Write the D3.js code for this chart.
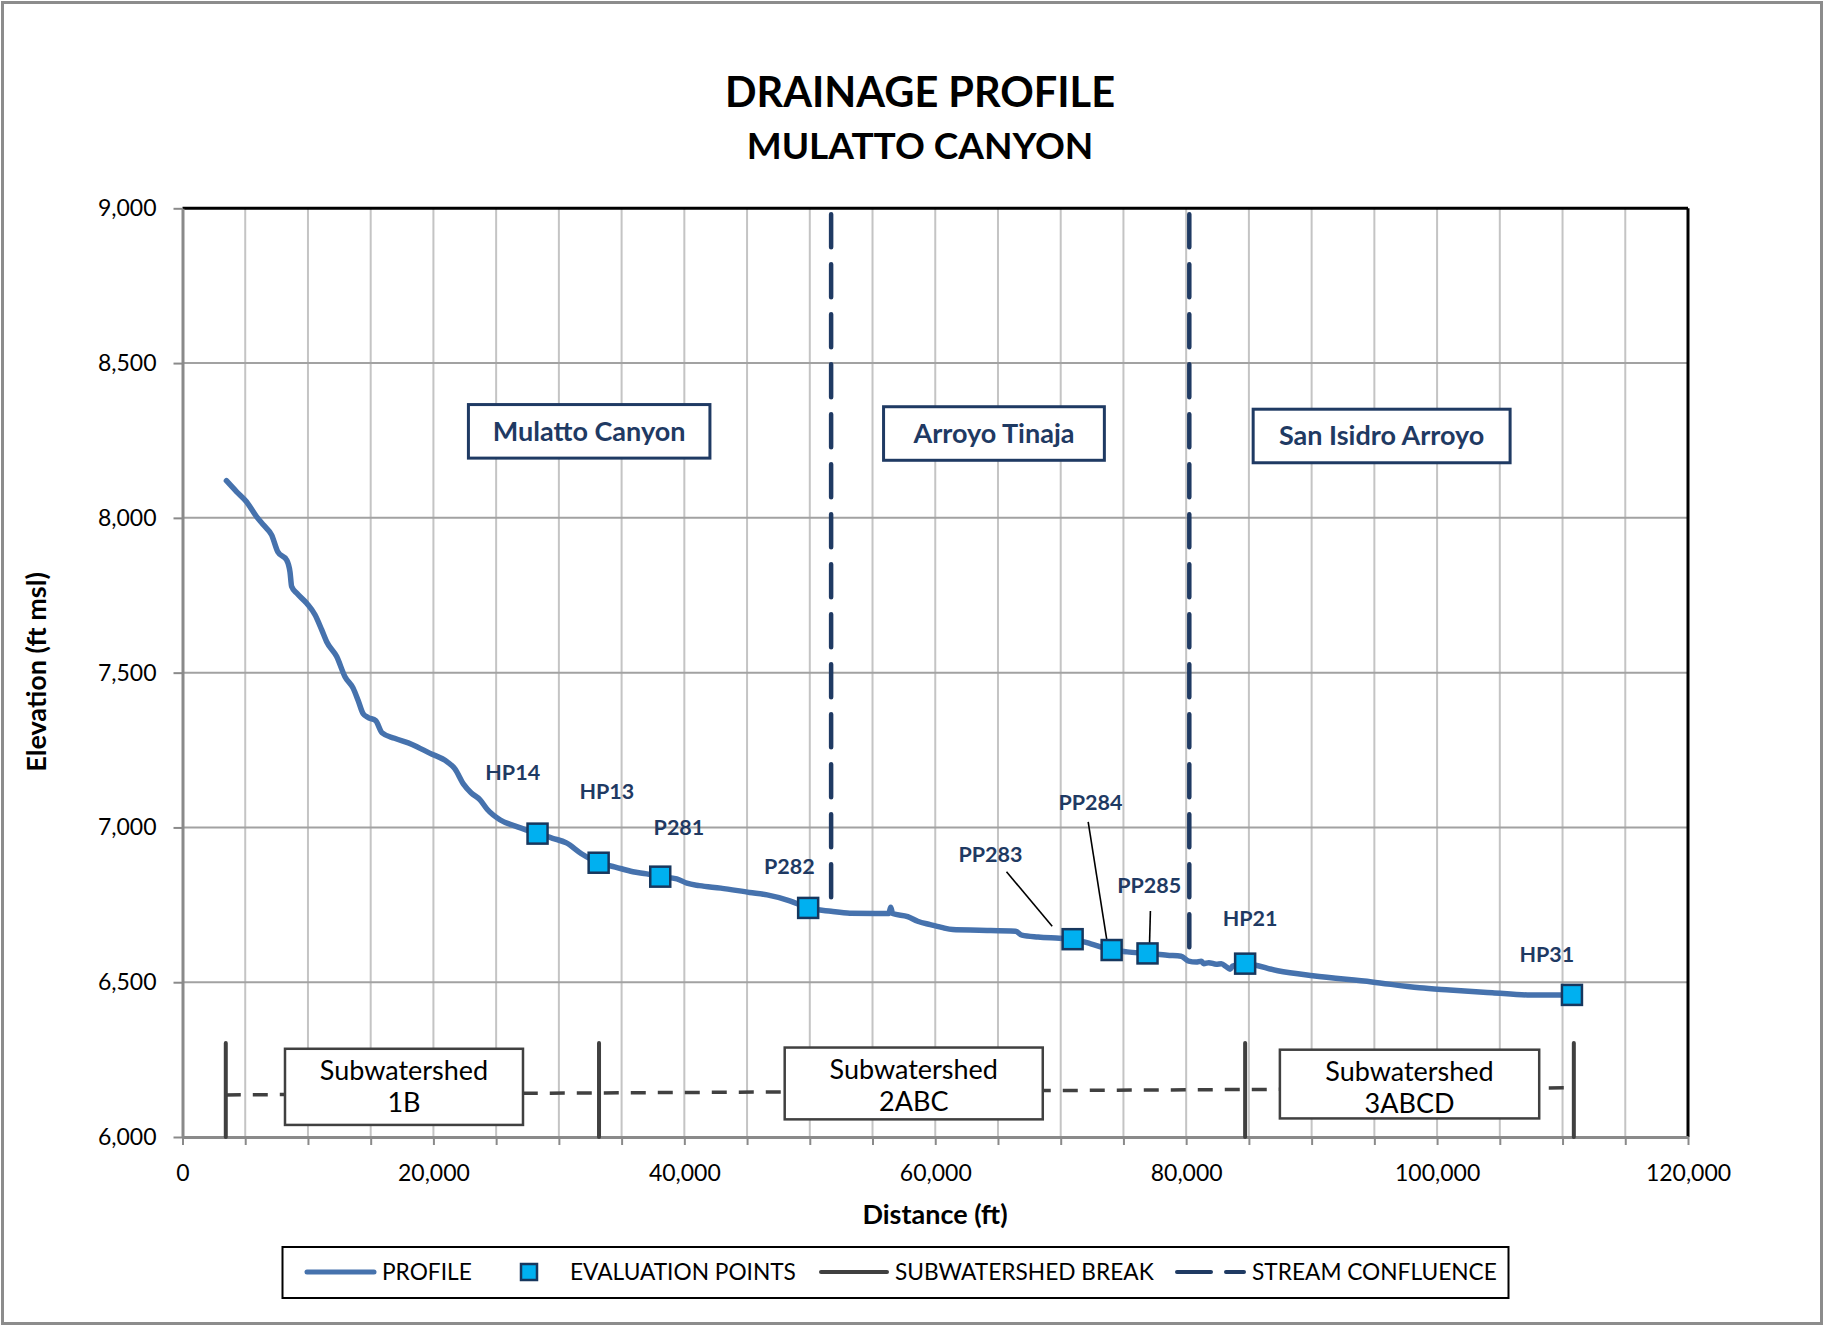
<!DOCTYPE html>
<html>
<head>
<meta charset="utf-8">
<script src="https://cdn.jsdelivr.net/npm/d3@7"></script>
<style>
  body { margin: 0; background: #fff; }
  text { font-family: Lato, "Noto Sans", sans-serif; }
</style>
</head>
<body>
<div id="chart"></div>
<script>
// profile (distance ft, elevation ft msl)
const profileDist = [3500, 4300, 5100, 5900, 6500, 7100, 7600, 8300, 8570, 8700, 9100, 9900, 10560, 11090, 11490, 12290,
  12950, 13600, 14000, 14400, 14800, 15400, 15900, 16900, 18300, 19700, 21100, 21700, 22400, 23000, 23700, 24300,
  25300, 26700, 28300, 29500, 30600, 31800, 33170, 34500, 35900, 37000, 38080, 39400, 40200, 41200, 42900, 45200,
  46600, 48400, 49870, 51700, 53200, 56000, 56300, 56450, 56600, 57800, 58600, 59600, 60500, 61400, 63500, 66400,
  66900, 68200, 69900, 70950, 72400, 74060, 75300, 76920, 78500, 79600, 80200, 80800, 81200, 81400, 81800, 82400,
  82800, 83200, 83500, 83700, 84700, 87300, 90100, 94800, 98600, 101000, 104400, 107200, 110750];
const profileElev = [8120, 8085, 8052, 8004, 7975, 7945, 7890, 7864, 7825, 7778, 7757, 7724, 7687, 7639, 7600, 7552,
  7487, 7450, 7410, 7367, 7355, 7345, 7306, 7288, 7268, 7240, 7212, 7190, 7140, 7112, 7090, 7058,
  7025, 7002, 6980, 6965, 6950, 6915, 6886, 6872, 6857, 6850, 6841, 6834, 6820, 6812, 6804, 6790,
  6782, 6763, 6740, 6729, 6723, 6722, 6722, 6742, 6722, 6712, 6697, 6686, 6677, 6670, 6668, 6665,
  6652, 6646, 6642, 6639, 6624, 6604, 6598, 6593, 6587, 6584, 6568, 6565, 6568, 6560, 6563, 6558,
  6560, 6550, 6542, 6552, 6560, 6537, 6521, 6501, 6482, 6475, 6466, 6459, 6459];

// evaluation points
const pointNames = ["HP14", "HP13", "P281", "P282", "PP283", "PP284", "PP285", "HP21", "HP31"];
const pointDist = [28300, 33170, 38080, 49870, 70950, 74060, 76920, 84700, 110750];
const pointElev = [6980, 6886, 6841, 6740, 6639, 6604, 6593, 6560, 6459];
// label anchors (data coords) and leader lines
const labelDist = [26320, 33820, 39570, 48370, 64400, 72370, 77050, 85100, 108750];
const labelElev = [7179, 7115, 6999, 6875, 6913, 7080, 6811, 6707, 6588];
const leaders = [
  [[65680, 6857], [69320, 6681]],
  [[72190, 7018], [73690, 6633]],
  [[77150, 6730], [77080, 6624]]
];

// stream confluences: distance, bottom elevation
const confluenceDist = [51700, 80250];
const confluenceEnd = [6745, 6594];

// subwatershed breaks
const breakDist = [3450, 33200, 84700, 110900];
const breakTop = 6304;
const divideLine = [[3450, 6136], [110900, 6159]];

// text boxes [x0, x1, yLow, yHigh]
const streamNames = ["Mulatto Canyon", "Arroyo Tinaja", "San Isidro Arroyo"];
const streamBoxes = [[22790, 42040, 8193, 8366], [55880, 73480, 8186, 8359], [85340, 105820, 8178, 8351]];
const shedNames = [["Subwatershed", "1B"], ["Subwatershed", "2ABC"], ["Subwatershed", "3ABCD"]];
const shedBoxes = [[8170, 27140, 6039, 6285], [48000, 68570, 6057, 6289], [87470, 108140, 6060, 6282]];

const xTicks = [0, 20000, 40000, 60000, 80000, 100000, 120000];
const yTicks = [6000, 6500, 7000, 7500, 8000, 8500, 9000];

const W = 1823, H = 1325;
const plot = { left: 182.5, right: 1688, top: 208.3, bottom: 1137 };
const navy = "#1f3a63", blue = "#4672ad", darkGray = "#404040";

const svg = d3.select("#chart").append("svg").attr("width", W).attr("height", H);
svg.append("rect").attr("x", 0).attr("y", 0).attr("width", W).attr("height", H).attr("fill", "#fff");
svg.append("rect").attr("x", 2.5).attr("y", 2.5).attr("width", W - 4).attr("height", H - 4)
  .attr("fill", "none").attr("stroke", "#8c8c8c").attr("stroke-width", 3);

const x = d3.scaleLinear().domain([0, 120000]).range([plot.left, plot.right]);
const y = d3.scaleLinear().domain([6000, 9000]).range([plot.bottom, plot.top]);

// titles
svg.append("text").attr("x", 920).attr("y", 107).attr("text-anchor", "middle")
  .attr("font-size", 41.5).attr("font-weight", 700).text("DRAINAGE PROFILE");
svg.append("text").attr("x", 920).attr("y", 159).attr("text-anchor", "middle")
  .attr("font-size", 37).attr("font-weight", 700).text("MULATTO CANYON");

// grid
const grid = svg.append("g");
grid.selectAll(".vg").data(d3.range(5000, 120000, 5000)).join("line")
  .attr("x1", d => x(d)).attr("x2", d => x(d)).attr("y1", plot.top).attr("y2", plot.bottom)
  .attr("stroke", "#c4c4c4").attr("stroke-width", 2);
grid.selectAll(".hg").data(yTicks.slice(1, -1)).join("line")
  .attr("x1", plot.left).attr("x2", plot.right).attr("y1", d => y(d)).attr("y2", d => y(d))
  .attr("stroke", "#a2a2a2").attr("stroke-width", 2);

// plot frame (top/right black)
svg.append("line").attr("x1", plot.left).attr("x2", plot.right).attr("y1", plot.top).attr("y2", plot.top)
  .attr("stroke", "#000").attr("stroke-width", 3);
svg.append("line").attr("x1", plot.right).attr("x2", plot.right).attr("y1", plot.top).attr("y2", plot.bottom)
  .attr("stroke", "#000").attr("stroke-width", 3);

// axes
const fmt = d3.format(",");
const xAxis = svg.append("g").attr("transform", `translate(0,${plot.bottom})`)
  .call(d3.axisBottom(x).tickValues(d3.range(0, 120001, 5000)).tickSize(8).tickSizeOuter(0)
    .tickFormat(d => xTicks.includes(d) ? fmt(d) : ""));
const yAxis = svg.append("g").attr("transform", `translate(${plot.left},0)`)
  .call(d3.axisLeft(y).tickValues(yTicks).tickSize(9).tickSizeOuter(0).tickFormat(fmt));
[xAxis, yAxis].forEach(a => {
  a.select(".domain").attr("stroke", "#8a8a8a").attr("stroke-width", 3);
  a.selectAll(".tick line").attr("stroke", "#8a8a8a").attr("stroke-width", 2);
  a.selectAll(".tick text").attr("font-family", "Lato, sans-serif").attr("font-size", 23).attr("fill", "#000");
});
xAxis.selectAll(".tick text").attr("dy", "1.45em");
yAxis.selectAll(".tick text").attr("x", -26);

svg.append("text").attr("x", 935).attr("y", 1224).attr("text-anchor", "middle")
  .attr("font-size", 27).attr("font-weight", 700).text("Distance (ft)");
svg.append("text").attr("transform", "translate(46,672) rotate(-90)").attr("text-anchor", "middle")
  .attr("font-size", 27).attr("font-weight", 700).text("Elevation (ft msl)");

// subwatershed divider and breaks
svg.append("line")
  .attr("x1", x(divideLine[0][0])).attr("y1", y(divideLine[0][1]))
  .attr("x2", x(divideLine[1][0])).attr("y2", y(divideLine[1][1]))
  .attr("stroke", darkGray).attr("stroke-width", 3.5).attr("stroke-dasharray", "15,12");
svg.selectAll(".brk").data(breakDist).join("line")
  .attr("x1", d => x(d)).attr("x2", d => x(d)).attr("y1", y(6000)).attr("y2", y(breakTop))
  .attr("stroke", darkGray).attr("stroke-width", 4).attr("stroke-linecap", "round");

const shedG = svg.selectAll(".shed").data(shedBoxes).join("g");
shedG.append("rect")
  .attr("x", d => x(d[0])).attr("y", d => y(d[3]))
  .attr("width", d => x(d[1]) - x(d[0])).attr("height", d => y(d[2]) - y(d[3]))
  .attr("fill", "#fff").attr("stroke", darkGray).attr("stroke-width", 2.5);
shedG.each(function (d, i) {
  const cx = (x(d[0]) + x(d[1])) / 2, top = y(d[3]);
  d3.select(this).append("text").attr("x", cx).attr("y", top + 31).attr("text-anchor", "middle")
    .attr("font-size", 27).text(shedNames[i][0]);
  d3.select(this).append("text").attr("x", cx).attr("y", top + 63).attr("text-anchor", "middle")
    .attr("font-size", 27).text(shedNames[i][1]);
});

// stream confluences
svg.selectAll(".conf").data(confluenceDist).join("line")
  .attr("x1", d => x(d)).attr("x2", d => x(d)).attr("y1", y(9000) + 6).attr("y2", (d, i) => y(confluenceEnd[i]))
  .attr("stroke", navy).attr("stroke-width", 4.5).attr("stroke-dasharray", "33,17").attr("stroke-linecap", "round");

// stream name boxes
const streamG = svg.selectAll(".stream").data(streamBoxes).join("g");
streamG.append("rect")
  .attr("x", d => x(d[0])).attr("y", d => y(d[3]))
  .attr("width", d => x(d[1]) - x(d[0])).attr("height", d => y(d[2]) - y(d[3]))
  .attr("fill", "#fff").attr("stroke", navy).attr("stroke-width", 3);
streamG.append("text")
  .attr("x", d => (x(d[0]) + x(d[1])) / 2).attr("y", d => (y(d[2]) + y(d[3])) / 2)
  .attr("dy", "0.35em").attr("text-anchor", "middle")
  .attr("font-size", 27).attr("font-weight", 700).attr("fill", navy)
  .text((d, i) => streamNames[i]);

// profile
const profile = profileDist.map((d, i) => [d, profileElev[i]]);
svg.append("path").datum(profile)
  .attr("d", d3.line().x(d => x(d[0])).y(d => y(d[1])).curve(d3.curveMonotoneX))
  .attr("fill", "none").attr("stroke", blue).attr("stroke-width", 5.5)
  .attr("stroke-linejoin", "round").attr("stroke-linecap", "round");

// leader lines
svg.selectAll(".leader").data(leaders).join("line")
  .attr("x1", d => x(d[0][0])).attr("y1", d => y(d[0][1]))
  .attr("x2", d => x(d[1][0])).attr("y2", d => y(d[1][1]))
  .attr("stroke", "#000").attr("stroke-width", 1.6);

// evaluation points
const ms = 20;
svg.selectAll(".pt").data(pointDist).join("rect")
  .attr("x", d => x(d) - ms / 2).attr("y", (d, i) => y(pointElev[i]) - ms / 2)
  .attr("width", ms).attr("height", ms)
  .attr("fill", "#00b0f0").attr("stroke", "#17375e").attr("stroke-width", 2.5);

svg.selectAll(".ptl").data(pointNames).join("text")
  .attr("x", (d, i) => x(labelDist[i])).attr("y", (d, i) => y(labelElev[i]))
  .attr("dy", "0.35em").attr("text-anchor", "middle")
  .attr("font-size", 21.5).attr("font-weight", 700).attr("fill", navy)
  .text(d => d);

// legend
const lg = svg.append("g");
const ly = 1272;
lg.append("rect").attr("x", 282.5).attr("y", 1247).attr("width", 1226).attr("height", 51)
  .attr("fill", "#fff").attr("stroke", "#000").attr("stroke-width", 2);
lg.append("line").attr("x1", 307).attr("x2", 374).attr("y1", ly).attr("y2", ly)
  .attr("stroke", blue).attr("stroke-width", 5).attr("stroke-linecap", "round");
lg.append("rect").attr("x", 521).attr("y", ly - 8).attr("width", 16).attr("height", 16)
  .attr("fill", "#00b0f0").attr("stroke", "#17375e").attr("stroke-width", 2.5);
lg.append("line").attr("x1", 821).attr("x2", 887).attr("y1", ly).attr("y2", ly)
  .attr("stroke", darkGray).attr("stroke-width", 4).attr("stroke-linecap", "round");
lg.append("line").attr("x1", 1177).attr("x2", 1244).attr("y1", ly).attr("y2", ly)
  .attr("stroke", navy).attr("stroke-width", 4).attr("stroke-dasharray", "34,15").attr("stroke-linecap", "round");
const legendText = [["PROFILE", 382], ["EVALUATION POINTS", 570], ["SUBWATERSHED BREAK", 895], ["STREAM CONFLUENCE", 1252]];
lg.selectAll(".lt").data(legendText).join("text")
  .attr("x", d => d[1]).attr("y", ly).attr("dy", "0.35em")
  .attr("font-size", 22.7).attr("fill", "#000").text(d => d[0]);
</script>
</body>
</html>
